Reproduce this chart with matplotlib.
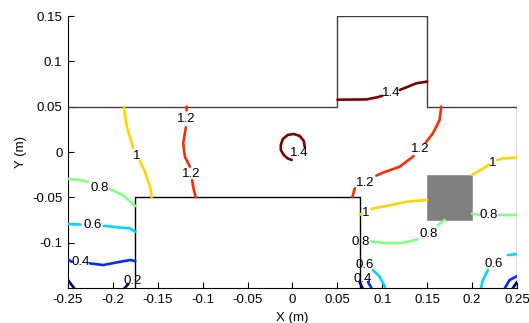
import numpy as np
import matplotlib.pyplot as plt
import matplotlib.patches as mpatches

nan = np.nan

# contour levels and tick labels
levels = [0.2, 0.4, 0.6, 0.8, 1.0, 1.2, 1.4]
level_colors = [(0, 0, 0.5), (0, 0.167, 1), (0, 0.833, 1), (0.5, 1, 0.5),
                (1, 0.833, 0), (1, 0.167, 0), (0.5, 0, 0)]  # matlab jet
xticks = [-0.25, -0.2, -0.15, -0.1, -0.05, 0, 0.05, 0.1, 0.15, 0.2, 0.25]
xtick_labels = ['-0.25', '-0.2', '-0.15', '-0.1', '-0.05', '0', '0.05', '0.1', '0.15', '0.2', '0.25']
yticks = [-0.1, -0.05, 0, 0.05, 0.1, 0.15]
ytick_labels = ['-0.1', '-0.05', '0', '0.05', '0.1', '0.15']

# contour lines (nan = gap for inline label)
l14_top_x = [0.05, 0.0823, 0.095, 0.100, nan, 0.1194, 0.1379, 0.15]
l14_top_y = [0.0577, 0.058, 0.0605, 0.062, nan, 0.0684, 0.0758, 0.0777]
l14_loop_x = [0.0137, 0.0126, 0.0081, 0.0014, -0.0052, -0.0108, -0.0130, -0.0130, -0.0097, -0.0052, -0.0008]
l14_loop_y = [0.0055, 0.0121, 0.0177, 0.0199, 0.0188, 0.0143, 0.0077, 0.0022, -0.0033, -0.0072, -0.0088]

l12_left_x = [-0.1178, -0.1180, nan, -0.1187, -0.1217, -0.1198, -0.1143, nan, -0.1117, -0.1106, -0.1079]
l12_left_y = [0.05, 0.046, nan, 0.0272, 0.0096, -0.0052, -0.0162, nan, -0.0309, -0.0383, -0.0497]
l12_right_x = [0.1657, 0.1638, 0.1564, 0.1480, nan, 0.1350, 0.1194, 0.1008, 0.0935, nan, 0.0693, 0.0667]
l12_right_y = [0.05, 0.0353, 0.0206, 0.010, nan, -0.0045, -0.0162, -0.0228, -0.026, nan, -0.0401, -0.0497]

l10_left_x = [-0.1877, -0.1856, -0.1835, -0.1795, -0.1776, nan, -0.1699, -0.1650, -0.1606, -0.1580, -0.1568]
l10_left_y = [0.05, 0.035, 0.0243, 0.012, 0.0044, nan, -0.0099, -0.020, -0.0328, -0.040, -0.05]
l10_upper_x = [0.2, 0.2158, 0.219, nan, 0.228, 0.2343, 0.25]
l10_upper_y = [-0.0254, -0.0162, -0.014, nan, -0.009, -0.007, -0.0063]
l10_lower_x = [0.15, 0.1268, 0.1046, 0.0897, 0.0880, nan, 0.075, 0.0775]
l10_lower_y = [-0.0528, -0.0549, -0.0596, -0.0622, -0.0628, nan, -0.069, -0.068]

l08_left_x = [-0.25, -0.2366, -0.228, nan, -0.203, -0.1996, -0.190, -0.1847, -0.175]
l08_left_y = [-0.0298, -0.0309, -0.033, nan, -0.041, -0.0427, -0.047, -0.0511, -0.0596]
l08_upper_x = [0.2, 0.208, nan, 0.230, 0.25]
l08_upper_y = [-0.068, -0.0695, nan, -0.0695, -0.0695]
l08_lower_x = [0.1694, 0.162, nan, 0.1397, 0.123, 0.1046, 0.0897, 0.0879]
l08_lower_y = [-0.075, -0.0806, nan, -0.0964, -0.1001, -0.1004, -0.099, -0.0986]

l06_left_x = [-0.25, -0.236, nan, -0.210, -0.2069, -0.195, -0.181, -0.175]
l06_left_y = [-0.0795, -0.080, nan, -0.0815, -0.0817, -0.083, -0.0842, -0.088]
l06_mid_x = [0.0897, 0.0971, 0.1027, 0.103]
l06_mid_y = [-0.1302, -0.1376, -0.1479, -0.15]
l06_right_x = [0.25, 0.2398, nan, 0.2176, 0.212, 0.2102, 0.2100]
l06_right_y = [-0.1126, -0.1137, nan, -0.1302, -0.1413, -0.1487, -0.15]

l04_left_x = [-0.25, -0.2459, nan, -0.2255, -0.2107, -0.1958, -0.181, -0.175]
l04_left_y = [-0.1185, -0.1211, nan, -0.1229, -0.1247, -0.1218, -0.1192, -0.1203]
l04_mid_x = [0.0841, 0.0879]
l04_mid_y = [-0.1434, -0.15]
l04_right_x = [0.25, 0.2417, 0.2373, 0.2365]
l04_right_y = [-0.1369, -0.1413, -0.1487, -0.15]

l02_left_x = [-0.25, -0.2433, nan, -0.1870, -0.1828]
l02_left_y = [-0.1413, -0.15, nan, -0.15, -0.1457]
l02_mid_x = [0.0750, 0.0780]
l02_mid_y = [-0.144, -0.15]
l02_right_x = [0.25, 0.2454]
l02_right_y = [-0.1435, -0.15]

# inline labels
lab_x = [0.110, 0.007, -0.1189, -0.1133, 0.1425, 0.0813, -0.1735, 0.2232, 0.0815,
         -0.2143, 0.219, 0.1522, 0.076, -0.2227, 0.0804, 0.2239, -0.236, 0.0778, -0.1776]
lab_y = [0.0648, -0.0011, 0.0364, -0.0248, 0.0033, -0.0339, -0.0044, -0.0121, -0.0673,
         -0.0392, -0.0695, -0.09, -0.0988, -0.0809, -0.1247, -0.1236, -0.1214, -0.1405, -0.1424]
lab_txt = ['1.4', '1.4', '1.2', '1.2', '1.2', '1.2', '1', '1', '1',
           '0.8', '0.8', '0.8', '0.8', '0.6', '0.6', '0.6', '0.4', '0.4', '0.2']

plt.rcParams['font.family'] = ['Liberation Sans', 'DejaVu Sans']

fig = plt.figure(figsize=(5.29, 3.23), dpi=100)
ax = fig.add_axes([0.1285, 0.1084, 0.8488, 0.842])

lines = [
    (1.4, l14_top_x, l14_top_y), (1.4, l14_loop_x, l14_loop_y),
    (1.2, l12_left_x, l12_left_y), (1.2, l12_right_x, l12_right_y),
    (1.0, l10_left_x, l10_left_y), (1.0, l10_upper_x, l10_upper_y), (1.0, l10_lower_x, l10_lower_y),
    (0.8, l08_left_x, l08_left_y), (0.8, l08_upper_x, l08_upper_y), (0.8, l08_lower_x, l08_lower_y),
    (0.6, l06_left_x, l06_left_y), (0.6, l06_mid_x, l06_mid_y), (0.6, l06_right_x, l06_right_y),
    (0.4, l04_left_x, l04_left_y), (0.4, l04_mid_x, l04_mid_y), (0.4, l04_right_x, l04_right_y),
    (0.2, l02_left_x, l02_left_y), (0.2, l02_mid_x, l02_mid_y), (0.2, l02_right_x, l02_right_y),
]
for lev, xs, ys in lines:
    c = level_colors[levels.index(lev)]
    ax.plot(xs, ys, color=c, lw=1.9, solid_capstyle='round', zorder=3)

for x, y, t in zip(lab_x, lab_y, lab_txt):
    ax.text(x, y, t, ha='center', va='center', fontsize=9.5, zorder=4)

# domain outline
ax.plot([-0.25, 0.05, 0.05, 0.15, 0.15, 0.25, 0.25],
        [0.05, 0.05, 0.15, 0.15, 0.05, 0.05, -0.15], color='0.25', lw=1, zorder=2)
ax.plot([-0.175, -0.175, 0.075, 0.075], [-0.15, -0.05, -0.05, -0.15], color='k', lw=1, zorder=2)
ax.add_patch(mpatches.Rectangle((0.15, -0.075), 0.05, 0.05, facecolor='#808080',
                                edgecolor='#8a8a8a', lw=0.5, zorder=2))

ax.set_xlim(-0.25, 0.25)
ax.set_ylim(-0.15, 0.15)
ax.set_xticks(xticks)
ax.set_xticklabels(xtick_labels)
ax.set_yticks(yticks)
ax.set_yticklabels(ytick_labels)
ax.tick_params(direction='in', length=4, labelsize=9.5, pad=4, top=False, right=False)
ax.spines['top'].set_visible(False)
ax.spines['right'].set_visible(False)
ax.set_xlabel('X (m)', fontsize=9.5, labelpad=5)
ax.set_ylabel('Y (m)', fontsize=9.5, labelpad=4)

fig.savefig('out.png', dpi=100)
